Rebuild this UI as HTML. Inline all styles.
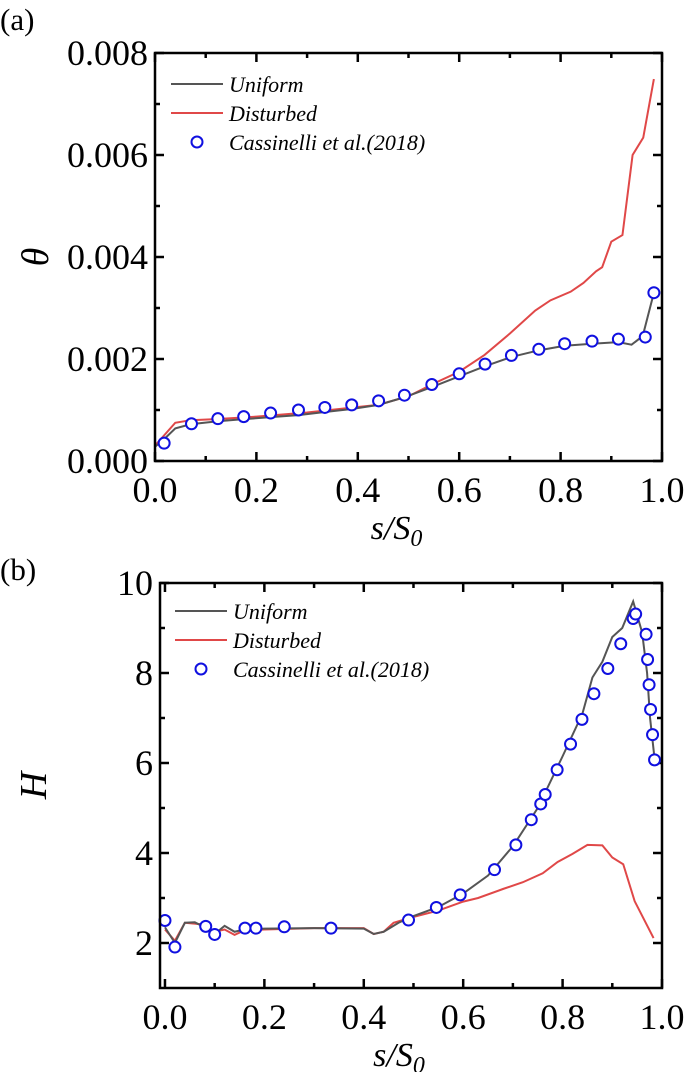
<!DOCTYPE html>
<html><head><meta charset="utf-8"><style>
body{margin:0;background:#fff;}
svg{display:block;font-family:"Liberation Serif",serif;}
</style></head><body>
<svg id="fig" width="685" height="1072" viewBox="0 0 685 1072">
<text x="0" y="30" font-size="31">(a)</text>
<text x="0" y="580" font-size="31">(b)</text>
<g id="A"></g><g id="B"></g>
</svg>
<script>
// Panel (a) data (theta in units of 1e-3)
const aUniS=[0,0.015,0.04,0.07,0.124,0.175,0.228,0.283,0.335,0.388,0.441,0.492,0.546,0.6,0.651,0.703,0.757,0.808,0.862,0.914,0.94,0.962,0.984];
const aUniV=[0.28,0.4,0.64,0.72,0.78,0.82,0.86,0.9,0.96,1.02,1.1,1.25,1.45,1.66,1.86,2.04,2.17,2.26,2.3,2.33,2.28,2.45,3.3];
const aDisS=[0,0.04,0.07,0.12,0.2,0.3,0.4,0.44,0.5,0.55,0.6,0.65,0.7,0.75,0.78,0.82,0.845,0.87,0.882,0.9,0.922,0.942,0.963,0.984];
const aDisV=[0.3,0.75,0.8,0.82,0.87,0.95,1.06,1.1,1.27,1.52,1.75,2.08,2.5,2.95,3.15,3.32,3.49,3.72,3.8,4.3,4.43,6.0,6.34,7.49];
const aRefS=[0.018,0.072,0.124,0.175,0.228,0.283,0.335,0.388,0.441,0.492,0.546,0.6,0.651,0.703,0.757,0.808,0.862,0.914,0.967,0.984];
const aRefV=[0.35,0.73,0.83,0.87,0.94,1.0,1.05,1.1,1.18,1.29,1.5,1.71,1.9,2.07,2.19,2.3,2.35,2.39,2.43,3.3];
const aYTicks=["0.000","0.002","0.004","0.006","0.008"];
const xTicks=["0.0","0.2","0.4","0.6","0.8","1.0"];
// Panel (b) data
const bUniS=[0,0.02,0.04,0.06,0.08,0.1,0.12,0.14,0.16,0.2,0.3,0.4,0.42,0.44,0.47,0.5,0.55,0.6,0.65,0.7,0.75,0.8,0.84,0.86,0.88,0.9,0.92,0.942,0.96,0.97,0.976,0.985];
const bUniV=[2.35,2.0,2.45,2.46,2.35,2.2,2.38,2.25,2.3,2.32,2.33,2.32,2.2,2.25,2.45,2.6,2.8,3.1,3.5,4.15,5.0,6.15,7.1,7.9,8.25,8.8,9.0,9.59,8.9,8.0,7.0,6.1];
const bDisS=[0,0.02,0.04,0.07,0.1,0.12,0.14,0.16,0.2,0.3,0.4,0.42,0.44,0.46,0.5,0.55,0.6,0.63,0.68,0.72,0.76,0.79,0.82,0.85,0.88,0.9,0.922,0.945,0.983];
const bDisV=[2.3,2.05,2.45,2.42,2.25,2.3,2.18,2.28,2.3,2.33,2.33,2.2,2.25,2.45,2.58,2.72,2.92,3.0,3.2,3.35,3.55,3.8,3.98,4.18,4.17,3.9,3.75,2.93,2.11];
const bRefS=[0,0.02,0.082,0.1,0.161,0.183,0.24,0.334,0.49,0.546,0.594,0.663,0.706,0.737,0.756,0.765,0.789,0.816,0.839,0.863,0.891,0.917,0.942,0.947,0.968,0.971,0.974,0.977,0.981,0.985];
const bRefV=[2.5,1.91,2.37,2.19,2.33,2.33,2.36,2.33,2.51,2.79,3.07,3.63,4.18,4.74,5.09,5.3,5.85,6.42,6.97,7.54,8.1,8.65,9.21,9.31,8.86,8.3,7.74,7.19,6.63,6.07];
const bYTicks=["2","4","6","8","10"];

const NS="http://www.w3.org/2000/svg";
function mk(p,t,a){const e=document.createElementNS(NS,t);for(const k in a)e.setAttribute(k,a[k]);p.appendChild(e);return e;}

function panel(g,o){
  const X=v=>o.x0+(v-o.xmin)/(o.xmax-o.xmin)*(o.x1-o.x0);
  const Y=v=>o.y1-(v-o.ymin)/(o.ymax-o.ymin)*(o.y1-o.y0);
  for(let i=0;i<=10;i++){const v=i/10,x=X(v),L=i%2?5:9;
    let t=mk(g,'line',{x1:x,x2:x,y1:o.y1,y2:o.y1-L,stroke:'#000','stroke-width':2.5});
    
    t=mk(g,'line',{x1:x,x2:x,y1:o.y0,y2:o.y0+L,stroke:'#000','stroke-width':2.5});
    }
  xTicks.forEach((s,i)=>{const t=mk(g,'text',{x:X(i*0.2),y:o.y1+41,'font-size':36,'text-anchor':'middle'});t.textContent=s;
    });
  for(const v of o.yminor){const y=Y(v),maj=o.ymajor.includes(v),L=maj?9:5;
    let t=mk(g,'line',{x1:o.x0,x2:o.x0+L,y1:y,y2:y,stroke:'#000','stroke-width':2.5});
    
    t=mk(g,'line',{x1:o.x1,x2:o.x1-L,y1:y,y2:y,stroke:'#000','stroke-width':2.5});
    }
  o.ylabels.forEach((s,i)=>{const t=mk(g,'text',{x:o.x0-7,y:Y(o.ymajor[i])+12,'font-size':36,'text-anchor':'end'});t.textContent=s;
    });
  const line=(S,V,c,n)=>{const p=mk(g,'polyline',{points:S.map((s,i)=>X(s)+','+Y(V[i])).join(' '),fill:'none',stroke:c,'stroke-width':2});
    };
  line(o.dS,o.dV,'#e04848','disturbed-line');
  line(o.uS,o.uV,'#555','uniform-line');
  o.rS.forEach((s,i)=>{const c=mk(g,'circle',{cx:X(s),cy:Y(o.rV[i]),r:5.5,fill:'#fff',stroke:'#1010e0','stroke-width':2});
    });
  const f=mk(g,'rect',{x:o.x0,y:o.y0,width:o.x1-o.x0,height:o.y1-o.y0,fill:'none',stroke:'#000','stroke-width':2.5});
  
  const ly=o.ly,lx=o.lx;
  let e=mk(g,'line',{x1:lx,x2:lx+52,y1:ly,y2:ly,stroke:'#555','stroke-width':2});
  
  e=mk(g,'line',{x1:lx,x2:lx+52,y1:ly+29,y2:ly+29,stroke:'#e04848','stroke-width':2});
  
  e=mk(g,'circle',{cx:lx+26,cy:ly+58,r:5.5,fill:'#fff',stroke:'#1010e0','stroke-width':2});
  
  ['Uniform','Disturbed','Cassinelli et al.(2018)'].forEach((s,i)=>{const t=mk(g,'text',{x:lx+58,y:ly+8+29*i,'font-size':22,'font-style':'italic'});t.textContent=s;
    });
  let t=mk(g,'text',{x:(o.x0+o.x1)/2-12,y:o.y1+78,'font-size':34,'font-style':'italic','text-anchor':'middle'});
  t.innerHTML='s/S<tspan font-size="24" dy="7">0</tspan>';
  
  t=mk(g,'text',{x:0,y:0,'font-size':38,'font-style':'italic','text-anchor':'middle',transform:`translate(${o.tx},${(o.y0+o.y1)/2}) rotate(-90)`});
  t.textContent=o.title;
  
}
panel(document.getElementById('A'),{x0:155,x1:662,y0:53,y1:461,xmin:0,xmax:1,ymin:0,ymax:8,
  ymajor:[0,2,4,6,8],yminor:[0,1,2,3,4,5,6,7,8],ylabels:aYTicks,
  uS:aUniS,uV:aUniV,dS:aDisS,dV:aDisV,rS:aRefS,rV:aRefV,lx:171,ly:84,title:'θ',tx:48});
panel(document.getElementById('B'),{x0:160,x1:662,y0:583,y1:988,xmin:-0.01,xmax:1.0,ymin:1,ymax:10,
  ymajor:[2,4,6,8,10],yminor:[2,3,4,5,6,7,8,9,10],ylabels:bYTicks,
  uS:bUniS,uV:bUniV,dS:bDisS,dV:bDisV,rS:bRefS,rV:bRefV,lx:175,ly:611,title:'H',tx:46});
</script>
</body></html>
